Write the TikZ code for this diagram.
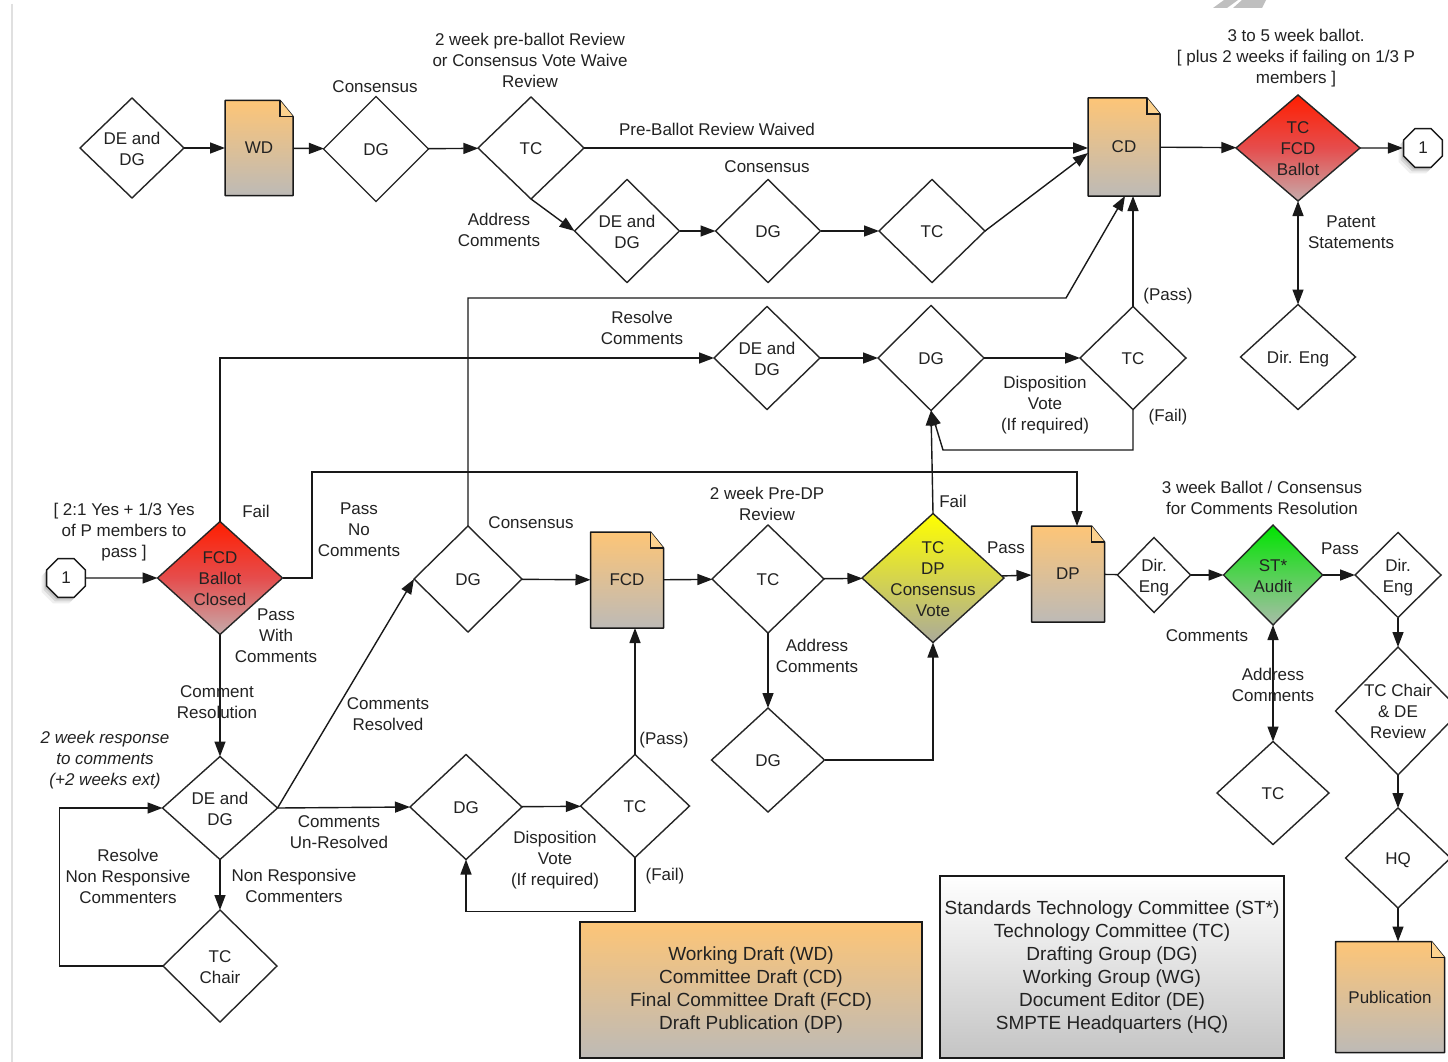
\documentclass[tikz,border=0pt]{standalone}
\usepackage{fontspec}
\setmainfont{Liberation Sans}
\usetikzlibrary{shapes.geometric,arrows.meta,shadows}
\definecolor{txt}{HTML}{222222}
\definecolor{doctop}{HTML}{FDC577}
\definecolor{docbot}{HTML}{BDBAB6}
\definecolor{docfold}{HTML}{FDD28E}
\definecolor{redtop}{HTML}{FF1E00}
\definecolor{redbot}{HTML}{C6ABAB}
\definecolor{yeltop}{HTML}{FFFF00}
\definecolor{yelbot}{HTML}{ABAA9A}
\definecolor{grntop}{HTML}{00E400}
\definecolor{grnbot}{HTML}{A9BDA9}
\definecolor{gbot}{HTML}{C4C4C4}
\newcommand\labf{\fontsize{17}{21}\selectfont}
\newcommand\legf{\fontsize{19}{23}\selectfont}
\newcommand\dtx[1]{\makebox[0pt]{\smash{\raisebox{-0.4em}{\def\arraystretch{1}\begin{tabular}{@{}c@{}}#1\end{tabular}}}}}
\tikzset{
  dia/.style 2 args={diamond, draw=black!85, line width=1.4pt, fill=white, inner sep=0pt, outer sep=0pt,
    minimum width=#1, minimum height=#2, font=\labf, text=txt},
  redfill/.style={top color=redtop, bottom color=redbot, middle color=red!55!redbot},
  yelfill/.style={top color=yeltop, bottom color=yelbot},
  grnfill/.style={top color=grntop, bottom color=grnbot},
  docnode/.style={rectangle, inner sep=0pt, outer sep=0pt, font=\labf, text=txt},
  docshade/.style={draw=black!90, line width=1.5pt, top color=doctop, bottom color=docbot, line join=round},
  oct/.style={regular polygon, regular polygon sides=8, minimum size=42, inner sep=0pt, draw=black!90,
    line width=1.4pt, fill=white, font=\labf, text=txt,
    drop shadow={shadow xshift=-5pt, shadow yshift=-6pt, opacity=0.12},
    drop shadow={shadow xshift=-3pt, shadow yshift=-4pt, opacity=0.2},
    drop shadow={shadow xshift=-1.5pt, shadow yshift=-2pt, opacity=0.3}},
  lbl/.style={font=\labf, align=center, inner sep=0pt, text=txt},
  ilbl/.style={font=\labf\itshape, align=center, inner sep=0pt, text=txt},
  legbox/.style={rectangle, draw=black!90, line width=1.5pt, font=\legf, align=center, text=txt, inner sep=0pt},
  arr/.style={line width=1.4pt, draw=black!90, -{Triangle[length=15pt,width=11pt]}},
  darr/.style={line width=1.4pt, draw=black!90, {Triangle[length=15pt,width=11pt]}-{Triangle[length=15pt,width=11pt]}},
  ln/.style={line width=1.4pt, draw=black!90},
}
\newcommand\mkdoc[6]{%
  \path[docshade] (#2-#4/2,#3-#5/2) -- (#2+#4/2-13,#3-#5/2) -- (#2+#4/2,#3-#5/2+16) -- (#2+#4/2,#3+#5/2) -- (#2-#4/2,#3+#5/2) -- cycle;
  \filldraw[fill=docfold, draw=black!90, line width=1.2pt] (#2+#4/2-13,#3-#5/2) -- (#2+#4/2-13,#3-#5/2+16) -- (#2+#4/2,#3-#5/2+16);
  \node[docnode, minimum width=#4, minimum height=#5] (#1) at (#2,#3) {#6};}
\begin{document}
\begin{tikzpicture}[x=1pt,y=-1pt]
\fill[white] (0,0) rectangle (1448,1062);
\useasboundingbox (0,0) rectangle (1448,1062);
\draw[black!12, line width=1.5pt] (12,4) -- (12,1062);
\fill[black!25] (1213,8) -- (1224,0) -- (1238,0) -- (1227,8) -- cycle;
\fill[black!25] (1233,8) -- (1242,0) -- (1266,0) -- (1262,8) -- cycle;

% ---------- row 1
\node[dia={104}{100}] (a1) at (132,148) {\dtx{DE and\\DG}};
\mkdoc{wd}{259}{148}{68}{95}{WD}
\node[dia={105}{105}] (a2) at (376,149) {\dtx{DG}};
\node[dia={106}{102}] (a3) at (531,148) {\dtx{TC}};
\mkdoc{cd}{1124}{147}{72}{98}{CD}
\node[dia={124}{106}, redfill] (ballot) at (1298,148) {\dtx{TC\\FCD\\Ballot}};
\node[oct] (oc1) at (1423,148) {1};

% ---------- row 2
\node[dia={105}{103}] (b1) at (627,231) {\dtx{DE and\\DG}};
\node[dia={105}{103}] (b2) at (768,231) {\dtx{DG}};
\node[dia={106}{103}] (b3) at (932,231) {\dtx{TC}};

% ---------- row 3
\node[dia={106}{103}] (c1) at (767,358) {\dtx{DE and\\DG}};
\node[dia={106}{105}] (c2) at (931,358) {\dtx{DG}};
\node[dia={106}{103}] (c3) at (1133,358) {\dtx{TC}};
\node[dia={115}{105}] (de1) at (1298,357) {\dtx{Dir. Eng}};

% ---------- row 4
\node[oct] (oc2) at (66,578) {1};
\node[dia={125}{113}, redfill] (closed) at (220,578) {\dtx{FCD\\Ballot\\Closed}};
\node[dia={108}{106}] (d1) at (468,579) {\dtx{DG}};
\mkdoc{fcd}{627}{580}{73}{96}{FCD}
\node[dia={112}{108}] (d2) at (768,579) {\dtx{TC}};
\node[dia={142}{129}, yelfill] (dpv) at (933,578) {\dtx{TC\\DP\\Consensus\\Vote}};
\mkdoc{dp}{1068}{574}{73}{96}{DP}
\node[dia={73}{75}] (de2) at (1154,575) {\dtx{Dir.\\Eng}};
\node[dia={99}{100}, grnfill] (st) at (1273,575) {\dtx{ST*\\Audit}};
\node[dia={86}{85}] (de3) at (1398,575) {\dtx{Dir.\\Eng}};

% ---------- row 5 and below
\node[dia={115}{103}] (e1) at (220,808) {\dtx{DE and\\DG}};
\node[dia={112}{105}] (e2) at (466,807) {\dtx{DG}};
\node[dia={109}{103}] (e3) at (635,806) {\dtx{TC}};
\node[dia={113}{104}] (d3) at (768,760) {\dtx{DG}};
\node[dia={112}{103}] (tc5) at (1273,793) {\dtx{TC}};
\node[dia={125}{128}] (rev) at (1398,711) {\dtx{TC Chair\\\& DE\\Review}};
\node[dia={114}{112}] (chair) at (220,966) {\dtx{TC\\Chair}};
\node[dia={105}{100}] (hq) at (1398,858) {\dtx{HQ}};
\mkdoc{pub}{1390}{997}{109}{111}{Publication}

% ---------- legend
\node[legbox, top color=doctop, bottom color=docbot, minimum width=342, minimum height=136] (leg1) at (751,990)
  {Working Draft (WD)\\Committee Draft (CD)\\Final Committee Draft (FCD)\\Draft Publication (DP)};
\node[legbox, top color=white, bottom color=gbot, minimum width=344, minimum height=182] (leg2) at (1112,967)
  {Standards Technology Committee (ST*)\\Technology Committee (TC)\\Drafting Group (DG)\\Working Group (WG)\\Document Editor (DE)\\SMPTE Headquarters (HQ)};

% ---------- connectors row 1/2
\draw[arr] (a1) -- (wd);
\draw[arr] (wd) -- (a2);
\draw[arr] (a2) -- (a3);
\draw[arr] (a3.east) -- (a3.east -| cd.west);
\draw[arr] (a3.south) -- (b1.west);
\draw[arr] (b1) -- (b2);
\draw[arr] (b2) -- (b3);
\draw[arr] (b3.east) -- ([yshift=-6pt]cd.west);
\draw[arr] (cd) -- (ballot);
\draw[arr] (ballot) -- (oc1);
\draw[darr] (ballot.south) -- (de1.north);

% ---------- connectors row 3
\draw[arr] (closed.north) |- (c1.west);
\draw[arr] (c1) -- (c2);
\draw[arr] (c2) -- (c3);
\draw[arr] (c3.north) -- (c3.north |- cd.south);
\draw[arr] (d1.north) |- (1066,298) -- ([xshift=1pt]cd.south);
\draw[arr] (c3.south) -- (1133,450) -- (943,450) -- (c2.south);
\draw[arr] (dpv.north) -- (c2.south);

% ---------- connectors row 4
\draw[arr] (oc2) -- (closed);
\draw[arr] (closed.east) -| (312,472) -| ([xshift=9pt]dp.north);
\draw[arr] (d1) -- (fcd);
\draw[arr] (fcd) -- (d2);
\draw[arr] (d2) -- (dpv);
\draw[arr] (dpv) -- (dp);
\draw[ln] (dp) -- (de2);
\draw[arr] (de2) -- (st);
\draw[arr] (st) -- (de3);
\draw[arr] (d2.south) -- (d3.north);
\draw[arr] (d3.east) -| (dpv.south);
\draw[darr] (st.south) -- (tc5.north);
\draw[arr] (de3.south) -- (rev.north);
\draw[arr] (rev.south) -- (hq.north);
\draw[arr] (hq.south) -- (hq.south |- pub.north);

% ---------- connectors lower left
\draw[arr] (closed.south) -- (e1.north);
\draw[arr] (e1.east) -- (d1.west);
\draw[arr] (e1.east) -- (e2.west);
\draw[arr] (e2) -- (e3);
\draw[arr] (e3.north) -- (e3.north |- fcd.south);
\draw[arr] (e3.south) -- ++(0,54) -| (e2.south);
\draw[arr] (e1.south) -- (chair.north);
\draw[arr] (chair.west) -| ([xshift=-103pt]e1.west) -- (e1.west);

% ---------- labels
\node[lbl] (l1) at (530,60) {2 week pre-ballot Review\\or Consensus Vote Waive\\Review};
\node[lbl] (l2) at (375,87) {Consensus};
\node[lbl] (l3) at (717,129) {Pre-Ballot Review Waived};
\node[lbl] (l4) at (499,230) {Address\\Comments};
\node[lbl] (l5) at (767,167) {Consensus};
\node[lbl] (l6) at (1296,58) {3 to 5 week ballot.\\{}[ plus 2 weeks if failing on 1/3 P\\members ]};
\node[lbl] (l7) at (1351,232) {Patent\\Statements};
\node[lbl] (l8) at (1168,296) {(Pass)};
\node[lbl] (l9) at (642,328) {Resolve\\Comments};
\node[lbl] (l10) at (1045,405) {Disposition\\Vote\\(If required)};
\node[lbl] (l11) at (1168,417) {(Fail)};
\node[lbl] (l12) at (124,532) {[ 2:1 Yes + 1/3 Yes\\of P members to\\pass ]};
\node[lbl] (l13) at (256,511) {Fail};
\node[lbl] (l14) at (359,530) {Pass\\No\\Comments};
\node[lbl] (l15) at (531,523) {Consensus};
\node[lbl] (l16) at (767,504) {2 week Pre-DP\\Review};
\node[lbl] (l17) at (953,501) {Fail};
\node[lbl] (l18) at (1006,548) {Pass};
\node[lbl] (l19) at (1262,498) {3 week Ballot / Consensus\\for Comments Resolution};
\node[lbl] (l20) at (1340,549) {Pass};
\node[lbl] (l21) at (276,636) {Pass\\With\\Comments};
\node[lbl] (l22) at (217,702) {Comment\\Resolution};
\node[lbl] (l23) at (817,656) {Address\\Comments};
\node[lbl] (l24) at (1207,636) {Comments};
\node[lbl] (l25) at (1273,685) {Address\\Comments};
\node[ilbl] (l26) at (105,760) {2 week response\\to comments\\(+2 weeks ext)};
\node[lbl] (l27) at (388,714) {Comments\\Resolved};
\node[lbl] (l28) at (339,832) {Comments\\Un-Resolved};
\node[lbl] (l29) at (664,740) {(Pass)};
\node[lbl] (l30) at (555,860) {Disposition\\Vote\\(If required)};
\node[lbl] (l31) at (665,876) {(Fail)};
\node[lbl] (l32) at (128,876) {Resolve\\Non Responsive\\Commenters};
\node[lbl] (l33) at (294,886) {Non Responsive\\Commenters};
\end{tikzpicture}
\end{document}
